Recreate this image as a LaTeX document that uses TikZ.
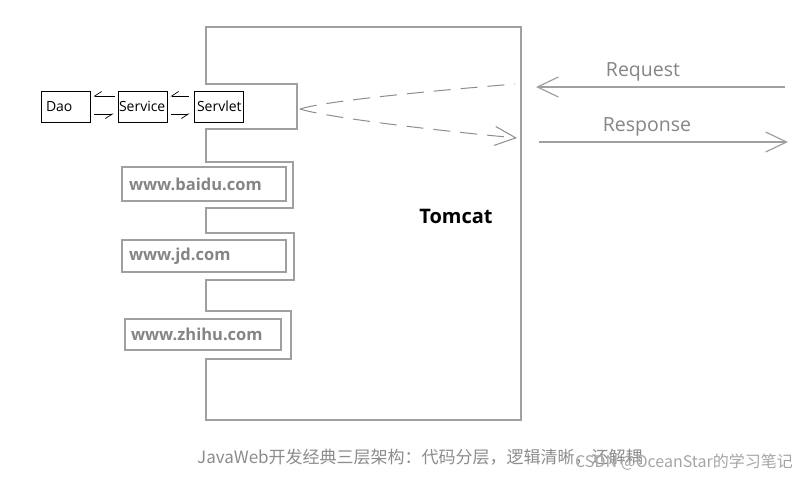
\documentclass[tikz,border=0pt]{standalone}
\usepackage{fontspec}
\setmainfont{Open Sans}
\newfontfamily\cjk{Noto Sans CJK SC}
\usetikzlibrary{arrows.meta}
\definecolor{linegray}{HTML}{A0A0A0}
\definecolor{dashgray}{HTML}{8E8E8E}
\definecolor{textgray}{HTML}{858585}
\definecolor{capgray}{HTML}{8C8C8C}
\definecolor{markgray}{HTML}{A6A6A6}
\begin{document}
\begin{tikzpicture}[x=1pt,y=-1pt,
  outline/.style={draw=linegray, line width=1.6pt},
  smallbox/.style={draw=black, line width=0.9pt, minimum height=31pt, text width=47pt, inner xsep=1pt, inner ysep=0pt, align=left, font=\fontsize{14}{16}\selectfont},
  sitebox/.style={draw=linegray, line width=1.6pt, inner xsep=7pt, inner ysep=0pt, align=left, text=textgray, font=\bfseries\fontsize{16.5}{19}\selectfont},
  harp/.style={draw=black, line width=0.7pt, -{Straight Barb[right, length=7pt, width=9pt]}},
  grayarrow/.style={draw=linegray, line width=1.5pt, -{Straight Barb[length=21pt, width=20pt, line width=1.2pt]}},
  dasharrow/.style={draw=dashgray, line width=1pt, dash pattern=on 17pt off 10pt, -{Straight Barb[length=21pt, width=19pt, line width=1pt]}},
  label/.style={text=textgray, font=\fontsize{19.5}{22}\selectfont}
]
\useasboundingbox (0,0) rectangle (807,480);
\fill[white] (0,0) rectangle (807,480);

% Tomcat outline with tabs
\draw[outline] (206,27) -- (521,27) -- (521,420) -- (206,420) -- (206,359) -- (291,359) -- (291,311) -- (206,311) -- (206,280) -- (294,280) -- (294,233) -- (206,233) -- (206,208) -- (293,208) -- (293,162) -- (206,162) -- (206,129) -- (297,129) -- (297,84) -- (206,84) -- cycle;

\node[font=\bfseries\fontsize{20}{24}\selectfont, text=black] (tomcat) at (456,216) {Tomcat};

% three-layer boxes
\node[smallbox, inner xsep=5pt, text width=39pt] (dao) at (65.5,106.5) {Dao};
\node[smallbox] (service) at (142.5,106.5) {Service};
\node[smallbox, inner xsep=3pt, text width=43pt] (servlet) at (218.5,106.5) {Servlet};

% yshift is in canvas units: positive = up
\draw[harp] ([xshift=-3pt,yshift=10.5pt]service.west) -- ([xshift=3pt,yshift=10.5pt]dao.east);
\draw[harp] ([xshift=4pt,yshift=-7.5pt]dao.east) -- ([xshift=-4pt,yshift=-7.5pt]service.west);
\draw[harp] ([xshift=-5pt,yshift=10.5pt]servlet.west) -- ([xshift=3pt,yshift=10.5pt]service.east);
\draw[harp] ([xshift=4pt,yshift=-7.5pt]service.east) -- ([xshift=-4pt,yshift=-7.5pt]servlet.west);

% web sites
\node[sitebox, text width=150pt, minimum height=34pt] (baidu) at (204,184) {www.baidu.com};
\node[sitebox, text width=150pt, minimum height=32pt] (jd) at (204,256) {www.jd.com};
\node[sitebox, inner xsep=6pt, text width=144pt, minimum height=31pt] (zhihu) at (203,334.5) {www.zhihu.com};

% request / response inside
\coordinate (tip) at (300,109);
\coordinate (din) at (515,84);
\coordinate (dout) at (517,138);
\draw[dasharrow, -] (tip) .. controls (325,101) and (430,91) .. (din);
\draw[dasharrow] (tip) .. controls (325,117) and (430,130) .. (dout);

% request / response outside
\coordinate (reqS) at (785,87);
\coordinate (reqE) at (536,87);
\coordinate (resS) at (539,142);
\coordinate (resE) at (788,142);
\draw[grayarrow] (reqS) -- (reqE);
\draw[grayarrow] (resS) -- (resE);
\node[label] (request) at (643,72) {Request};
\node[label] (response) at (647,127) {Response};

% caption and watermark
\node[anchor=west, inner sep=0pt, text=capgray, font=\cjk\fontsize{17}{20}\selectfont] (caption) at (197,457) {JavaWeb开发经典三层架构：代码分层，逻辑清晰，还解耦};
\node[anchor=west, inner sep=0pt, text=markgray, font=\cjk\fontsize{16}{19}\selectfont] (mark) at (575,462) {CSDN @OceanStar的学习笔记};
\end{tikzpicture}
\end{document}
